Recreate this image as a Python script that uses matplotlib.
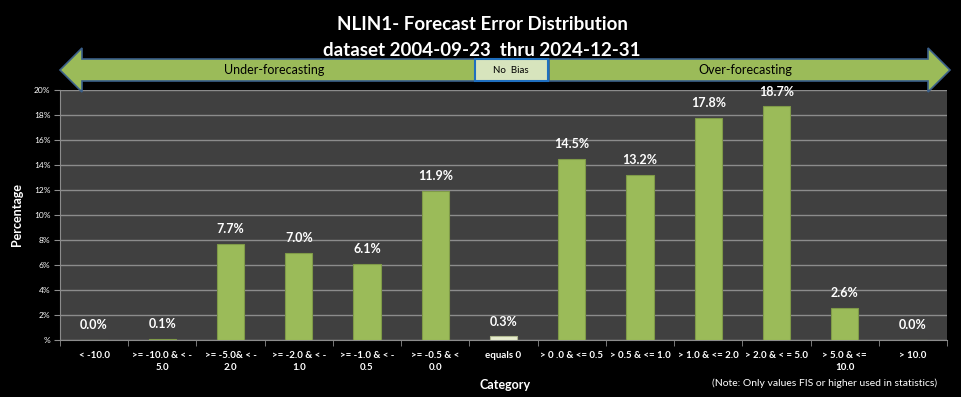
import matplotlib
matplotlib.use("Agg")
import matplotlib.pyplot as plt
from matplotlib.patches import Polygon, Rectangle
import numpy as np

plt.rcParams['font.family'] = ['Lato', 'DejaVu Sans']

categories = ["< -10.0", ">= -10.0 & < -\n5.0", ">= -5.0& < -\n2.0", ">= -2.0 & < -\n1.0",
              ">= -1.0 & < -\n0.5", ">= -0.5 & <\n0.0", "equals 0", "> 0 .0 & <= 0.5",
              "> 0.5 & <= 1.0", "> 1.0 & <= 2.0", "> 2.0 & < = 5.0", "> 5.0 & <=\n10.0", "> 10.0"]
values = [0.0, 0.1, 7.7, 7.0, 6.1, 11.9, 0.3, 14.5, 13.2, 17.8, 18.7, 2.6, 0.0]
yticks = [0, 2, 4, 6, 8, 10, 12, 14, 16, 18, 20]
ytick_labels = ["%", "2%", "4%", "6%", "8%", "10%", "12%", "14%", "16%", "18%", "20%"]

W, H = 961, 397
fig = plt.figure(figsize=(W/100, H/100), dpi=100, facecolor='black')

L, R, T, B = 60, 947, 90, 340
ax = fig.add_axes([L/W, 1-B/H, (R-L)/W, (B-T)/H])
ax.set_facecolor('#404040')
x = np.arange(len(categories))
colors = ['#e8edcf' if c == "equals 0" else '#9bbb59' for c in categories]
edges = ['#b0b890' if c == "equals 0" else '#7f9a48' for c in categories]
ax.bar(x, values, width=0.4, color=colors, edgecolor=edges, linewidth=0.8, zorder=3)
for xi, v in zip(x, values):
    ax.text(xi, v + 0.7, f"{v:.1f}%", ha='center', va='bottom', color='white',
            fontsize=9, fontweight='bold', zorder=4)
ax.set_xlim(-0.5, len(categories) - 0.5)
ax.set_ylim(0, 20)
ax.set_yticks(yticks)
ax.set_yticklabels(ytick_labels, color='white', fontsize=6)
ax.yaxis.grid(True, color='#8c8c8c', linewidth=1.0, zorder=0)
ax.set_axisbelow(True)
ax.set_xticks(x)
ax.set_xticklabels(categories, color='white', fontsize=7, fontweight='bold', linespacing=1.4)
ax.set_xticks(np.arange(-0.5, len(categories)), minor=True)
ax.tick_params(axis='x', which='major', length=0, pad=8)
ax.tick_params(axis='x', which='minor', length=4, color='#8c8c8c', direction='out')
ax.tick_params(axis='y', length=4, color='#8c8c8c', pad=3)
for s in ['top', 'right']:
    ax.spines[s].set_visible(False)
for s in ['left', 'bottom']:
    ax.spines[s].set_color('#8c8c8c')
ax.set_ylabel("Percentage", color='white', fontsize=9, fontweight='bold', labelpad=8)

# overlay for title, arrows and notes
ov = fig.add_axes([0, 0, 1, 1], facecolor='none')
ov.set_xlim(0, W)
ov.set_ylim(H, 0)
ov.axis('off')

ov.text(482, 24, "NLIN1- Forecast Error Distribution", ha='center', va='center',
        color='white', fontsize=13.5, fontweight='bold')
ov.text(482, 50, "dataset 2004-09-23  thru 2024-12-31", ha='center', va='center',
        color='white', fontsize=13.5, fontweight='bold')

green = '#9bbb59'
edge = '#3a5f8a'
left_arrow = [(60, 70), (82, 48), (82, 59), (475, 59), (475, 81), (82, 81), (82, 92)]
ov.add_patch(Polygon(left_arrow, closed=True, facecolor=green, edgecolor=edge, linewidth=1.2, zorder=5))
right_arrow = [(549, 59), (928, 59), (928, 48), (950, 70), (928, 92), (928, 81), (549, 81)]
ov.add_patch(Polygon(right_arrow, closed=True, facecolor=green, edgecolor=edge, linewidth=1.2, zorder=5))
ov.add_patch(Rectangle((475, 59), 73, 22, facecolor='#d7e4bd', edgecolor='#1f6fbf', linewidth=1.5, zorder=6))
ov.text(274, 70.5, "Under-forecasting", ha='center', va='center', fontsize=9, color='black', zorder=7)
ov.text(511, 70.5, "No  Bias", ha='center', va='center', fontsize=7, color='black', zorder=7)
ov.text(745, 70.5, "Over-forecasting", ha='center', va='center', fontsize=9, color='black', zorder=7)

ov.text(505, 385, "Category", ha='center', va='center', color='white', fontsize=9, fontweight='bold')
ov.text(825, 383, "(Note: Only values FIS or higher used in statistics)", ha='center', va='center',
        color='white', fontsize=7.5)

fig.savefig("out.png", dpi=100, facecolor='black')
